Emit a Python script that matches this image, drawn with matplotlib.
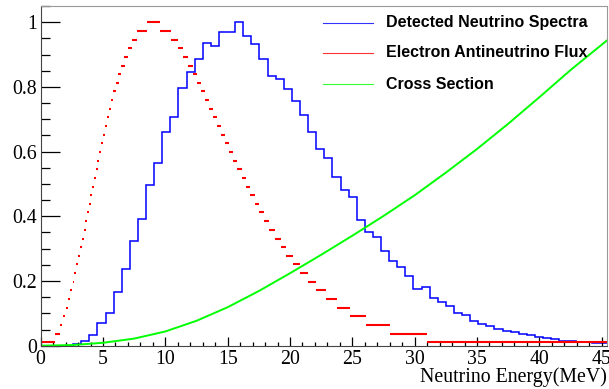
import numpy as np
import matplotlib
matplotlib.use('Agg')
import matplotlib.pyplot as plt
from matplotlib.ticker import MultipleLocator, FuncFormatter

# detected spectrum: 70 bins from 0 to 45.5 MeV
spec_range = (0.0, 45.5)
spec_vals = [0, 0, 0, 0, 0.005, 0.014, 0.032, 0.070, 0.102, 0.165,
             0.237, 0.325, 0.391, 0.497, 0.564, 0.661, 0.706, 0.796, 0.847, 0.887,
             0.937, 0.926, 0.971, 0.969, 1.000, 0.957, 0.932, 0.887, 0.834, 0.824,
             0.793, 0.755, 0.712, 0.661, 0.607, 0.579, 0.521, 0.480, 0.459, 0.389,
             0.352, 0.335, 0.292, 0.263, 0.242, 0.216, 0.175, 0.180, 0.148, 0.136,
             0.123, 0.102, 0.095, 0.077, 0.067, 0.062, 0.051, 0.046, 0.041, 0.035,
             0.032, 0.027, 0.024, 0.021, 0.015, 0.015, 0.011, 0.010, 0.008, 0.008]

# flux: quantised levels, drawn as flat pieces (rising side and falling side)
flux_level = [0.0105, 0.037, 0.064, 0.091, 0.117, 0.144, 0.171, 0.198, 0.224, 0.251,
              0.278, 0.305, 0.331, 0.358, 0.385, 0.412, 0.438, 0.465, 0.492, 0.519,
              0.545, 0.572, 0.599, 0.626, 0.652, 0.679, 0.706, 0.733, 0.759, 0.786,
              0.813, 0.840, 0.866, 0.893, 0.920, 0.946, 0.973, 1.000]
flux_rise_lo = [0.00, 1.12, 1.58, 1.80, 2.04, 2.23, 2.39, 2.57, 2.71, 2.87,
                3.03, 3.16, 3.30, 3.46, 3.59, 3.70, 3.86, 3.99, 4.14, 4.27,
                4.41, 4.54, 4.68, 4.84, 5.00, 5.15, 5.31, 5.47, 5.64, 5.83,
                6.04, 6.24, 6.47, 6.71, 6.98, 7.30, 7.76, 8.50]
flux_rise_hi = [1.15, 1.52, 1.72, 1.94, 2.18, 2.37, 2.53, 2.71, 2.85, 3.01,
                3.17, 3.30, 3.44, 3.60, 3.73, 3.84, 4.00, 4.13, 4.30, 4.43,
                4.57, 4.70, 4.84, 5.00, 5.16, 5.33, 5.49, 5.65, 5.84, 6.03,
                6.26, 6.48, 6.73, 7.03, 7.34, 7.76, 8.50, 9.60]
flux_fall_lo = [30.96, 27.98, 26.13, 24.79, 23.73, 22.85, 22.08, 21.41, 20.82, 20.23,
                19.71, 19.24, 18.76, 18.33, 17.93, 17.53, 17.16, 16.80, 16.44, 16.11,
                15.76, 15.45, 15.10, 14.79, 14.47, 14.15, 13.85, 13.54, 13.19, 12.88,
                12.55, 12.20, 11.83, 11.44, 11.00, 10.46, 9.60]
flux_fall_hi = [45.50, 30.96, 27.98, 26.13, 24.79, 23.73, 22.85, 22.08, 21.41, 20.82,
                20.23, 19.71, 19.24, 18.76, 18.33, 17.93, 17.53, 17.16, 16.80, 16.44,
                16.11, 15.76, 15.45, 15.10, 14.79, 14.47, 14.15, 13.85, 13.54, 13.19,
                12.88, 12.55, 12.20, 11.83, 11.44, 11.00, 10.46]

# cross section curve
xs_e = [0, 2.5, 5, 7.5, 10, 12.5, 15, 17.5, 20, 22.5, 25, 27.5, 30, 32.5, 35, 37.5, 40, 42.5, 45.5]
xs_v = [0, 0.002, 0.009, 0.022, 0.044, 0.077, 0.119, 0.169, 0.224, 0.281, 0.340, 0.401,
        0.465, 0.535, 0.608, 0.686, 0.768, 0.852, 0.946]

labels = ['Detected Neutrino Spectra', 'Electron Antineutrino Flux', 'Cross Section']
colors = ['#0000ff', '#ff0000', '#00ff00']

fig = plt.figure(figsize=(6.09, 3.89), dpi=100)
ax = fig.add_axes([0.0668, 0.1113, 0.9294, 0.8733])

edges = np.linspace(spec_range[0], spec_range[1], len(spec_vals) + 1)
ax.stairs(spec_vals, edges, color=colors[0], lw=1.1, baseline=None)

nf = len(flux_fall_lo)
ax.hlines(flux_level, flux_rise_lo, flux_rise_hi, color=colors[1], lw=1.5)
ax.hlines(flux_level[:nf], flux_fall_lo, flux_fall_hi, color=colors[1], lw=1.5)

ax.plot(xs_e, xs_v, color=colors[2], lw=1.4)

ax.set_xlim(0, 45.4)
ax.set_ylim(0, 1.05)

ax.xaxis.set_major_locator(MultipleLocator(5))
ax.xaxis.set_minor_locator(MultipleLocator(1))
ax.yaxis.set_major_locator(MultipleLocator(0.2))
ax.yaxis.set_minor_locator(MultipleLocator(0.05))
ax.yaxis.set_major_formatter(FuncFormatter(lambda v, p: '%g' % round(v, 2)))
ax.tick_params(axis='both', which='both', direction='in', top=False, right=False,
               labelsize=14.3, width=0.9)
ax.tick_params(axis='y', which='major', length=13.5, pad=2.5)
ax.tick_params(axis='y', which='minor', length=6.7)
ax.tick_params(axis='x', which='major', length=6.5, pad=3.0)
ax.tick_params(axis='x', which='minor', length=3.0)
for lab in ax.get_xticklabels() + ax.get_yticklabels():
    lab.set_family('Liberation Serif')

for s in ['left', 'bottom']:
    ax.spines[s].set_color('#444444')
for s in ['top', 'right']:
    ax.spines[s].set_color('#999999')

ax.text(1.0, -0.108, 'Neutrino Energy(MeV)', transform=ax.transAxes, ha='right',
        va='baseline', fontsize=14.3, family='Liberation Serif')

# legend without frame
leg_y = [0.951, 0.863, 0.770]
for lab, c, yy in zip(labels, colors, leg_y):
    ax.plot([0.499, 0.587], [yy, yy], color=c, lw=0.8, alpha=0.8, transform=ax.transAxes)
    ax.text(0.61, yy, lab, transform=ax.transAxes, ha='left', va='center',
            fontsize=11.5, fontweight='bold', family='Liberation Sans')

fig.savefig('out.png', dpi=100)
